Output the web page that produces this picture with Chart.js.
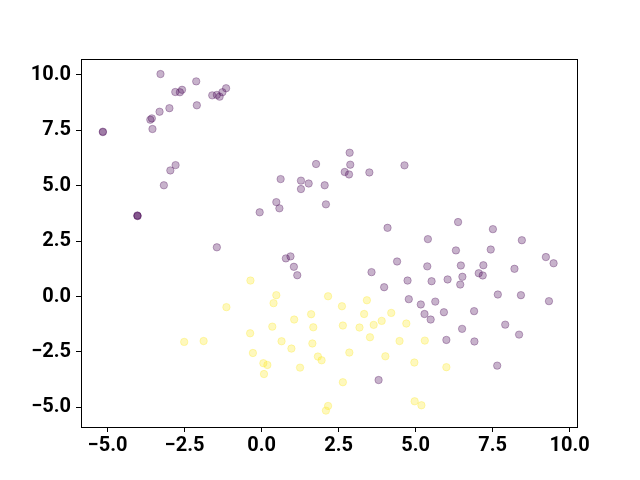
<!DOCTYPE html>
<html>
<head>
<meta charset="utf-8">
<script src="https://cdn.jsdelivr.net/npm/chart.js@4"></script>
<style>
  html, body { margin: 0; padding: 0; background: #fff; }
  #wrap { width: 640px; height: 480px; }
</style>
</head>
<body>
<div id="wrap"><canvas id="myChart" width="640" height="480"></canvas></div>
<script>
// class 0 (purple)
const purpleX = [-3.28, -2.12, -2.80, -2.65, -2.58, -1.60, -1.45, -1.36, -1.27, -1.15,
    -2.10, -2.99, -3.31, -3.61, -3.56, -3.54, -5.15, -5.15, -2.79, -2.96,
    -3.17, -4.03, -4.03, -4.02, -1.45, 2.86, 1.77, 2.88, 4.64, 2.70,
    2.84, 3.50, 0.62, 1.28, 1.53, 1.28, 2.05, 2.09, 0.48, 0.58,
    -0.06, 4.09, 0.94, 0.79, 1.05, 1.16, 4.40, 3.57, 4.74, 3.98,
    6.38, 7.51, 5.40, 8.45, 6.31, 7.44, 9.23, 9.48, 5.38, 6.47,
    7.20, 8.21, 7.05, 7.18, 6.52, 6.45, 5.52, 6.04, 7.67, 8.42,
    9.33, 4.78, 5.64, 5.17, 5.29, 5.92, 5.49, 6.90, 7.91, 6.51,
    8.36, 6.00, 6.91, 7.65, 3.80];
const purpleY = [10.04, 9.71, 9.23, 9.22, 9.33, 9.08, 9.10, 9.02, 9.22, 9.40,
    8.63, 8.50, 8.34, 7.98, 8.04, 7.56, 7.42, 7.44, 5.93, 5.69,
    5.02, 3.64, 3.66, 3.63, 2.22, 6.49, 5.98, 5.95, 5.92, 5.62,
    5.51, 5.60, 5.30, 5.23, 5.10, 4.85, 5.02, 4.16, 4.26, 3.98,
    3.80, 3.10, 1.81, 1.72, 1.34, 0.96, 1.58, 1.10, 0.72, 0.42,
    3.36, 3.04, 2.59, 2.54, 2.08, 2.12, 1.78, 1.50, 1.36, 1.40,
    1.41, 1.25, 1.05, 0.95, 0.89, 0.54, 0.69, 0.77, 0.09, 0.06,
    -0.21, -0.12, -0.23, -0.36, -0.79, -0.71, -1.04, -0.66, -1.27, -1.46,
    -1.72, -1.96, -2.03, -3.12, -3.77];

// class 1 (yellow)
const yellowX = [-0.36, 0.48, 0.39, 2.16, -1.14, 1.61, 1.06, 0.35, 1.68, -0.37,
    0.65, 1.65, 0.97, -2.51, -1.88, -0.28, 1.83, 1.95, 0.06, 0.19,
    0.08, 1.25, 2.09, 2.16, 2.61, 3.42, 3.33, 4.21, 2.64, 3.18,
    3.64, 3.90, 4.70, 3.52, 4.48, 5.30, 2.85, 4.02, 4.96, 6.00,
    2.64, 4.97, 5.19];
const yellowY = [0.72, 0.06, -0.30, 0.01, -0.48, -0.80, -1.04, -1.36, -1.39, -1.66,
    -2.02, -2.12, -2.35, -2.05, -2.01, -2.55, -2.71, -2.88, -3.01, -3.09,
    -3.50, -3.21, -5.15, -4.94, -0.44, -0.17, -0.79, -0.74, -1.31, -1.40,
    -1.28, -1.10, -1.22, -1.84, -2.01, -1.99, -2.53, -2.70, -2.98, -3.19,
    -3.87, -4.73, -4.91];

const xTicks = [-5, -2.5, 0, 2.5, 5, 7.5, 10];
const yTicks = [-5, -2.5, 0, 2.5, 5, 7.5, 10];

function toPoints(xs, ys) {
    const pts = [];
    for (let i = 0; i < xs.length; i++) {
        pts.push({ x: xs[i], y: ys[i] });
    }
    return pts;
}

function fmt(v) {
    return v.toFixed(1).replace('-', '\u2212');
}

// draws the box round the plot area, like matplotlib's spines
const frame = {
    id: 'frame',
    afterDraw(chart) {
        const a = chart.chartArea;
        const c = chart.ctx;
        c.save();
        c.strokeStyle = '#000';
        c.lineWidth = 1;
        c.strokeRect(Math.round(a.left) + 0.5, Math.round(a.top) + 0.5,
            Math.round(a.right - a.left), Math.round(a.bottom - a.top));
        c.restore();
    }
};

const tickFont = { family: 'Roboto', size: 20, weight: 'bold' };

var ctx = document.getElementById('myChart').getContext('2d');

var myChart = new Chart(ctx, { // eslint-disable-line
    type: 'scatter',
    data: {
        datasets: [{
            data: toPoints(purpleX, purpleY),
            backgroundColor: 'rgba(68, 1, 84, 0.3)',
            borderColor: 'rgba(68, 1, 84, 0.3)',
            borderWidth: 1,
            pointRadius: 3.7
        }, {
            data: toPoints(yellowX, yellowY),
            backgroundColor: 'rgba(253, 231, 37, 0.3)',
            borderColor: 'rgba(253, 231, 37, 0.3)',
            borderWidth: 1,
            pointRadius: 3.7
        }]
    },
    options: {
        responsive: false,
        animation: false,
        layout: { padding: { left: 0, right: 63, top: 59, bottom: 0 } },
        plugins: {
            legend: { display: false },
            tooltip: { enabled: false }
        },
        scales: {
            x: {
                type: 'linear',
                min: -5.86,
                max: 10.24,
                afterBuildTicks: (scale) => { scale.ticks = xTicks.map(v => ({ value: v })); },
                afterFit: (scale) => { scale.height = 53; },
                grid: { drawOnChartArea: false, color: '#000', tickLength: 5 },
                border: { display: false },
                ticks: {
                    color: '#000',
                    font: tickFont,
                    padding: 2,
                    maxRotation: 0,
                    autoSkip: false,
                    callback: (v) => fmt(v)
                }
            },
            y: {
                type: 'linear',
                min: -5.89,
                max: 10.72,
                afterBuildTicks: (scale) => { scale.ticks = yTicks.map(v => ({ value: v })); },
                afterFit: (scale) => { scale.width = 81; },
                grid: { drawOnChartArea: false, color: '#000', tickLength: 5 },
                border: { display: false },
                ticks: {
                    color: '#000',
                    font: tickFont,
                    padding: 5,
                    autoSkip: false,
                    callback: (v) => fmt(v)
                }
            }
        }
    },
    plugins: [frame]
});
</script>
</body>
</html>
